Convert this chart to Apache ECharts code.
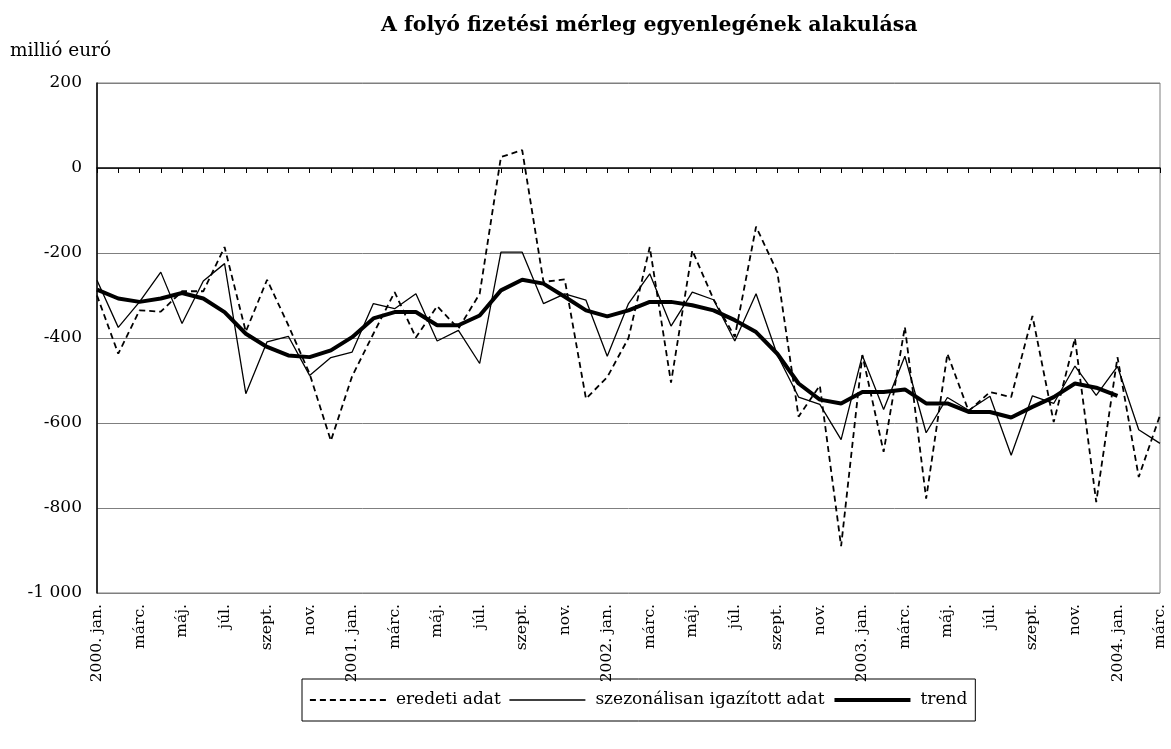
<!DOCTYPE html>
<html>
<head>
<meta charset="utf-8">
<script src="https://cdn.jsdelivr.net/npm/echarts@6/dist/echarts.min.js"></script>
<style>
html,body{margin:0;padding:0;background:#fff;}
#chart{width:1171px;height:749px;}
</style>
</head>
<body>
<div id="chart"></div>
<script>
const categories = [
  '2000. jan.','febr.','márc.','ápr.','máj.','jún.','júl.','aug.','szept.','okt.','nov.','dec.',
  '2001. jan.','febr.','márc.','ápr.','máj.','jún.','júl.','aug.','szept.','okt.','nov.','dec.',
  '2002. jan.','febr.','márc.','ápr.','máj.','jún.','júl.','aug.','szept.','okt.','nov.','dec.',
  '2003. jan.','febr.','márc.','ápr.','máj.','jún.','júl.','aug.','szept.','okt.','nov.','dec.',
  '2004. jan.','febr.','márc.'
];
const eredeti = [
  -300, -437, -335, -338, -290, -290, -186, -385, -263, -370, -484, -642,
  -490, -390, -292, -399, -325, -378, -296, 26, 42, -268, -262, -543,
  -492, -400, -186, -505, -194, -309, -397, -138, -245, -585, -512, -890,
  -440, -668, -374, -778, -437, -572, -527, -539, -348, -598, -401, -786,
  -445, -727, -582
];
const szezonalis = [
  -264, -375, -315, -245, -366, -266, -225, -531, -409, -396, -488, -446,
  -433, -319, -331, -296, -407, -382, -460, -198, -198, -319, -296, -311,
  -443, -319, -249, -372, -292, -310, -407, -296, -440, -539, -556, -639,
  -441, -568, -443, -623, -540, -570, -537, -676, -536, -554, -466, -535,
  -467, -616, -648
];
const trend = [
  -286, -307, -315, -307, -294, -307, -339, -390, -421, -441, -445, -429,
  -398, -354, -339, -339, -370, -370, -347, -288, -263, -272, -303, -335,
  -349, -335, -315, -315, -323, -335, -358, -386, -437, -507, -545, -554,
  -527, -527, -521, -554, -554, -574, -574, -587, -562, -539, -507, -517,
  -536, null, null
];
const seriesNames = ['eredeti adat', 'szezonálisan igazított adat', 'trend'];
const titleText = 'A folyó fizetési mérleg egyenlegének alakulása';
const unitText = 'millió euró';

const FONT = 'DejaVu Serif';
const styles = [
  {color: '#000', width: 1.8, type: [6, 4]},
  {color: '#000', width: 1.3, type: 'solid'},
  {color: '#000', width: 4, type: 'solid'}
];
const chart = echarts.init(document.getElementById('chart'), null, {renderer: 'canvas'});
chart.setOption({
  animation: false,
  backgroundColor: '#fff',
  title: [
    {text: titleText, left: 381, top: 15, padding: 0,
     textStyle: {fontFamily: FONT, fontSize: 20.5, fontWeight: 'bold', color: '#000'}},
    {text: unitText, left: 10, top: 42, padding: 0,
     textStyle: {fontFamily: FONT, fontSize: 18.5, fontWeight: 'normal', color: '#000'}}
  ],
  grid: {left: 97, right: 11, top: 83, bottom: 156, show: true, borderColor: '#7f7f7f', borderWidth: 1},
  xAxis: {
    type: 'category', data: categories, boundaryGap: false,
    axisLine: {show: true, lineStyle: {color: '#000', width: 1.5}},
    axisTick: {show: true, interval: 0, length: 5, lineStyle: {color: '#000', width: 1}},
    axisLabel: {interval: 1, rotate: 90, margin: 11, fontFamily: FONT, fontSize: 15.5, color: '#000'},
    splitLine: {show: false}
  },
  yAxis: {
    type: 'value', min: -1000, max: 200, interval: 200,
    axisLine: {show: true, lineStyle: {color: '#000', width: 1.5}},
    axisTick: {show: false},
    axisLabel: {margin: 15, fontFamily: FONT, fontSize: 17, color: '#000',
      formatter: v => (v < 0 ? '-' : '') + Math.abs(v).toString().replace(/\B(?=(\d{3})+(?!\d))/g, ' ')},
    splitLine: {show: true, lineStyle: {color: '#7f7f7f', width: 1}}
  },
  legend: {
    data: seriesNames.map((n, i) => ({name: n, lineStyle: styles[i]})),
    left: 302, top: 679, orient: 'horizontal',
    borderColor: '#000', borderWidth: 1, padding: [11, 8, 11, 7],
    itemWidth: 76, itemHeight: 14, itemGap: 8,
    itemStyle: {color: 'rgba(0,0,0,0)', borderWidth: 0, opacity: 0},
    textStyle: {fontFamily: FONT, fontSize: 17, lineHeight: 20, color: '#000', padding: [0, 0, 0, 5]}
  },
  series: [
    {name: seriesNames[0], type: 'line', data: eredeti, symbol: 'none', z: 2,
     lineStyle: styles[0], itemStyle: {color: '#000'}},
    {name: seriesNames[1], type: 'line', data: szezonalis, symbol: 'none', z: 3,
     lineStyle: styles[1], itemStyle: {color: '#000'}},
    {name: seriesNames[2], type: 'line', data: trend, symbol: 'none', z: 4,
     lineStyle: styles[2], itemStyle: {color: '#000'}}
  ]
});
</script>
</body>
</html>
